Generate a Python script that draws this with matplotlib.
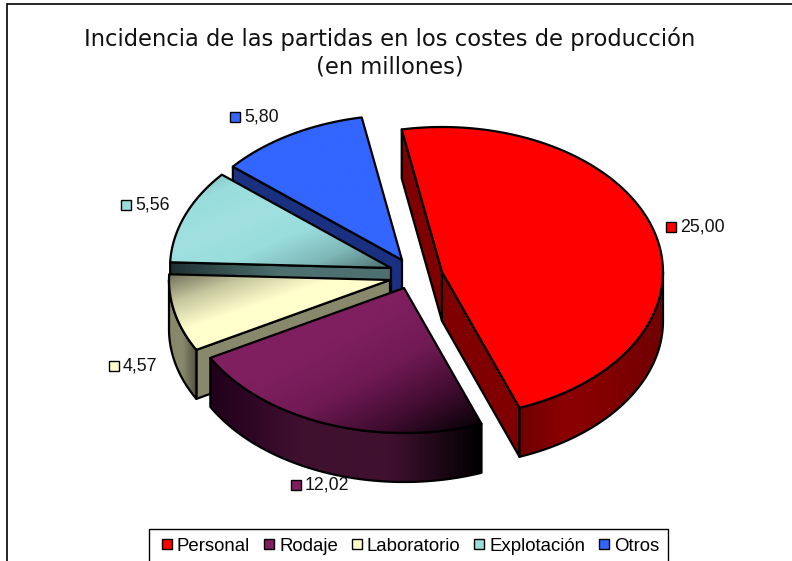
# plot.py - tarta 3D con porciones separadas (costes de produccion)
import numpy as np
import matplotlib
matplotlib.use("Agg")
import matplotlib.pyplot as plt
from matplotlib.colors import LinearSegmentedColormap
from matplotlib.patches import Polygon
from matplotlib.lines import Line2D

plt.rcParams["font.family"] = ["Liberation Sans", "DejaVu Sans"]

categories = ["Personal", "Rodaje", "Laboratorio", "Explotación", "Otros"]
values = [25.00, 12.02, 4.57, 5.56, 5.80]
colors = ["#FF0000", "#7F1F5F", "#FFFFCC", "#99DDDD", "#3366FF"]

# geometria en pixeles de la imagen
apex = [(442, 272), (404, 288), (390, 280), (391, 268), (402, 260)]
label_pos = [(671, 227), (296, 485), (114, 366), (126, 205), (235, 117)]
RX, RY = 221, 145
DEPTH = 49
START = -10.5

# degradados de la cara superior: (direccion, paradas)
top_grad = [
    ((1, 1), ["#FF0000", "#FF0000"]),
    ((1, 1), ["#4A1038", "#7F1F5F", "#801F60", "#701A54", "#400C30", "#000000"]),
    ((1, 1), ["#70705A", "#C8C8A0", "#FFFFCC", "#FFFFCC", "#FFFFCC", "#FFFFCC"]),
    ((1, 1), ["#80B0B0", "#99DDDD", "#A0E0E0", "#99DDDD", "#80B8B8", "#4A6E6E"]),
    ((1, 1), ["#3366FF", "#3366FF"]),
]
cut_grad = [
    ((1, 0), ["#800000", "#800000"]),
    ((1, 0), ["#1A0010", "#401030"]),
    ((1, 0), ["#88886C", "#88886C"]),
    ((1, 0), ["#1E3030", "#4E7070", "#4E7070"]),
    ((1, 0), ["#1A3080", "#1A3080"]),
]
arc_grad = [
    ((1, 0), ["#700000", "#8C0000", "#800000", "#700000"]),
    ((1, 0), ["#20001A", "#401030", "#40102F", "#000000"]),
    ((1, 0), ["#88886C", "#88886C", "#505040"]),
    ((1, 0), ["#304848", "#304848"]),
    ((1, 0), ["#1A3080", "#1A3080"]),
]


def point(c, ang):
    a = np.radians(ang)
    return np.array([c[0] + RX * np.sin(a), c[1] - RY * np.cos(a)])


def fill_grad(ax, pts, direction, stops, zorder):
    pts = np.asarray(pts)
    x0, y0 = pts.min(axis=0)
    x1, y1 = pts.max(axis=0)
    xx, yy = np.meshgrid(np.linspace(0, 1, 200), np.linspace(0, 1, 200))
    grad = (xx * direction[0] + yy * direction[1]) / (abs(direction[0]) + abs(direction[1]))
    cmap = LinearSegmentedColormap.from_list("g", stops)
    im = ax.imshow(grad, extent=(x0, x1, y1, y0), cmap=cmap, vmin=0, vmax=1,
                   aspect="auto", zorder=zorder, interpolation="bilinear")
    patch = Polygon(pts, closed=True, fc="none", ec="black", lw=1.6,
                    joinstyle="round", zorder=zorder + 0.1)
    ax.add_patch(patch)
    im.set_clip_path(patch)


fig = plt.figure(figsize=(7.92, 5.61), dpi=100)
ax = fig.add_axes([0, 0, 1, 1])

# angulos a partir de los valores
spans = np.array(values) / sum(values) * 360
starts = START + np.concatenate(([0], np.cumsum(spans)[:-1]))

# se pinta de atras hacia delante
order = [4, 3, 2, 1, 0]
z = 2
for i in order:
    c = np.array(apex[i], dtype=float)
    a0, a1 = starts[i], starts[i] + spans[i]
    arc = np.array([point(c, a) for a in np.linspace(a0, a1, 120)])
    down = np.array([0, DEPTH])

    # caras de corte, solo las que miran al frente
    if np.sin(np.radians(a0)) < 0:
        fill_grad(ax, [c, arc[0], arc[0] + down, c + down], *cut_grad[i], z)
        z += 1
    if np.sin(np.radians(a1)) > 0:
        fill_grad(ax, [c, arc[-1], arc[-1] + down, c + down], *cut_grad[i], z)
        z += 1

    # borde exterior visible (solo la parte que mira hacia abajo)
    lo, hi = max(a0, 90), min(a1, 270)
    if hi > lo:
        front = np.array([point(c, a) for a in np.linspace(lo, hi, 80)])
        fill_grad(ax, np.vstack([front, (front + down)[::-1]]), *arc_grad[i], z)
        z += 1

    # cara superior
    fill_grad(ax, np.vstack([[c], arc]), *top_grad[i], z)
    z += 1

ax.set_xlim(0, 792)
ax.set_ylim(561, 0)
ax.axis("off")

# marco del grafico
ax.plot([7, 7, 792], [561, 4, 4], color="black", lw=1.2, zorder=1, solid_joinstyle="miter")

ax.text(390, 39, "Incidencia de las partidas en los costes de producción",
        ha="center", va="center", fontsize=16.3, color="#111111", family="DejaVu Sans")
ax.text(390, 67, "(en millones)", ha="center", va="center", fontsize=16.3,
        color="#111111", family="DejaVu Sans")

# etiquetas de datos
for i, (x, y) in enumerate(label_pos):
    ax.plot([x], [y], marker="s", ms=7, mfc=colors[i], mec="black", mew=1, zorder=200)
    ax.text(x + 9, y, f"{values[i]:.2f}".replace(".", ","), ha="left", va="center",
            fontsize=12.8, color="#111111", zorder=200)

handles = [Line2D([], [], ls="none", marker="s", ms=7.5, mfc=col, mec="black", mew=1,
                  label=cat) for cat, col in zip(categories, colors)]
leg = ax.legend(handles=handles, ncol=5, loc="lower left",
                bbox_to_anchor=(149 / 792, -0.004), frameon=True, fancybox=False,
                edgecolor="black", framealpha=1, fontsize=13.4, handletextpad=0.05,
                columnspacing=0.5, borderpad=0.45, handlelength=1.0, borderaxespad=0)
leg.get_frame().set_linewidth(1)
leg.set_zorder(300)

fig.savefig("out.png", dpi=100)
